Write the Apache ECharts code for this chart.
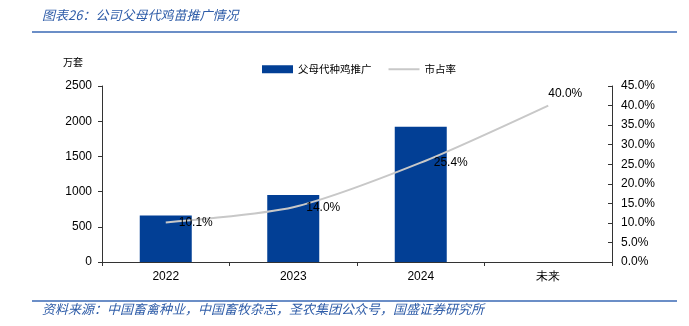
<!DOCTYPE html>
<html>
<head>
<meta charset="utf-8">
<script src="https://cdn.jsdelivr.net/npm/echarts@6/dist/echarts.min.js"></script>
<style>
html,body{margin:0;padding:0;background:#fff;}
#c{width:689px;height:326px;}
</style>
</head>
<body>
<div id="c"></div>
<script>
const categories = ['2022', '2023', '2024', '未来'];
const promotion = [660, 950, 1920, null];
const share = [10.1, 14.0, 25.4, 40.0];
const leftTicks = { min: 0, max: 2500, interval: 500 };
const rightTicks = { min: 0, max: 45, interval: 5 };

const titleText = '图表26：公司父母代鸡苗推广情况';
const sourceText = '资料来源：中国畜禽种业，中国畜牧杂志，圣农集团公众号，国盛证券研究所';
const unitText = '万套';
const barName = '父母代种鸡推广';
const lineName = '市占率';

const blue = '#2E5CA8';
const cjk = '"Noto Sans CJK SC", sans-serif';
const latin = '"Liberation Sans", Arial, sans-serif';

const chart = echarts.init(document.getElementById('c'), null, { renderer: 'canvas' });

const lineData = share.map((v, i) => {
  if (i === share.length - 1) {
    return { value: v, label: { position: 'top', offset: [17, 7] } };
  }
  return { value: v };
});

chart.setOption({
  animation: false,
  backgroundColor: '#fff',
  graphic: [
    { type: 'text', left: 42, top: 9, style: { text: titleText, fill: blue, font: 'italic 13px ' + cjk } },
    { type: 'line', shape: { x1: 32, y1: 32, x2: 677, y2: 32 }, style: { stroke: '#3A69B4', lineWidth: 1.5 } },
    { type: 'text', left: 63, top: 57, style: { text: unitText, fill: '#000', font: '10px ' + cjk } },
    { type: 'line', shape: { x1: 32, y1: 301, x2: 677, y2: 301 }, style: { stroke: '#3A69B4', lineWidth: 1.5 } },
    { type: 'text', left: 42, top: 303, style: { text: sourceText, fill: blue, font: 'italic 13px ' + cjk } }
  ],
  legend: {
    top: 59,
    left: 257,
    itemGap: 16,
    itemWidth: 31,
    itemHeight: 8,
    textStyle: { fontFamily: cjk, fontSize: 10.5, color: '#000' },
    data: [
      { name: barName, icon: 'rect' },
      { name: lineName, itemStyle: { opacity: 0 } }
    ]
  },
  grid: { left: 102, right: 77, top: 86, bottom: 64 },
  xAxis: {
    type: 'category',
    data: categories,
    boundaryGap: true,
    axisLine: { lineStyle: { color: '#333', width: 1 } },
    axisTick: { show: true, alignWithLabel: false, length: 4, lineStyle: { color: '#333' } },
    axisLabel: { color: '#000', fontFamily: latin, fontSize: 12, margin: 9 },
    splitLine: { show: false }
  },
  yAxis: [
    {
      type: 'value',
      min: leftTicks.min, max: leftTicks.max, interval: leftTicks.interval,
      axisLine: { show: true, lineStyle: { color: '#333' } },
      axisTick: { show: true, length: 4, lineStyle: { color: '#333' } },
      axisLabel: { color: '#000', fontFamily: latin, fontSize: 12, margin: 10, formatter: v => String(v) },
      splitLine: { show: false }
    },
    {
      type: 'value',
      position: 'right',
      min: rightTicks.min, max: rightTicks.max, interval: rightTicks.interval,
      axisLine: { show: true, lineStyle: { color: '#333' } },
      axisTick: { show: true, inside: true, length: 4, lineStyle: { color: '#333' } },
      axisLabel: { color: '#000', fontFamily: latin, fontSize: 12, margin: 9, formatter: v => v.toFixed(1) + '%' },
      splitLine: { show: false }
    }
  ],
  series: [
    {
      name: barName,
      type: 'bar',
      data: promotion,
      barWidth: 52,
      itemStyle: { color: '#023F95' },
      yAxisIndex: 0
    },
    {
      name: lineName,
      type: 'line',
      data: lineData,
      yAxisIndex: 1,
      smooth: 0.25,
      symbol: 'circle',
      symbolSize: 0,
      showSymbol: true,
      lineStyle: { color: '#C8C8C8', width: 2 },
      itemStyle: { color: '#C8C8C8' },
      label: {
        show: true,
        position: 'right',
        distance: 13,
        color: '#000',
        fontFamily: latin,
        fontSize: 12,
        formatter: p => p.value.toFixed(1) + '%'
      },
      z: 5
    }
  ]
});
</script>
</body>
</html>
